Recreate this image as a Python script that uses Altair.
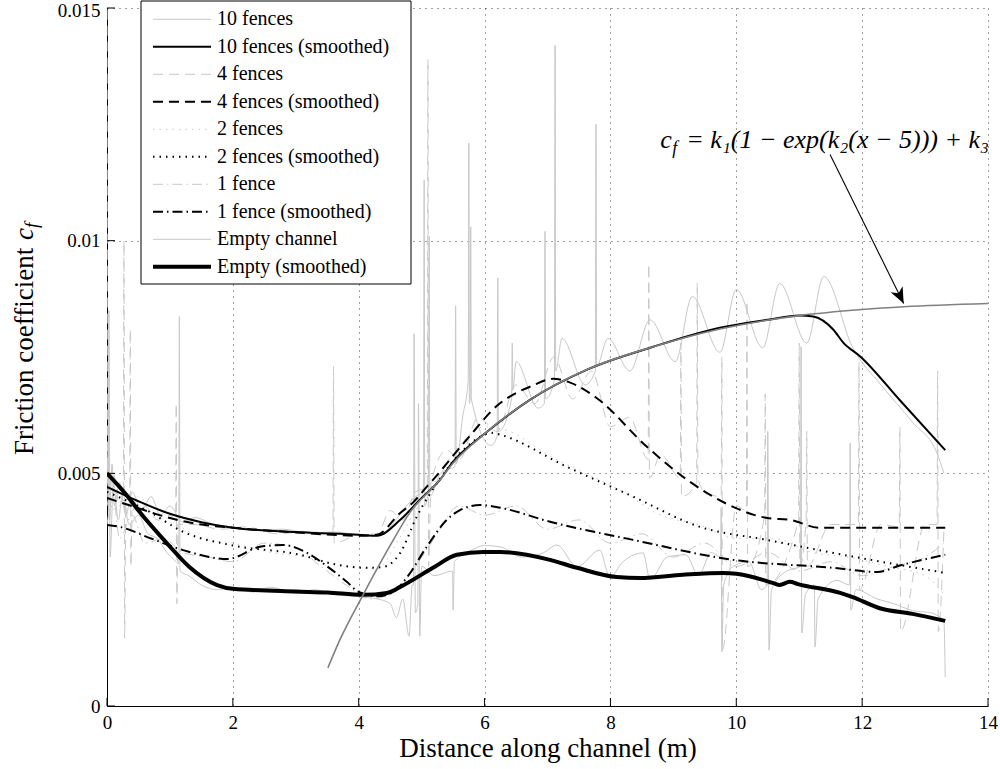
import altair as alt
import pandas as pd

# ---------------- data (friction coefficient values in units of 1e-3) ----------------
# raw traces
ten_raw_x = [0.0, 0.04, 0.08, 0.12, 0.2, 0.3, 0.4, 0.55, 0.7, 0.85, 1.0, 1.2, 1.4, 1.7, 2.0, 2.4, 2.8, 3.2, 3.6, 4.0,
             4.3, 4.5, 4.7, 4.9, 5.03, 5.04, 5.05, 5.11, 5.12, 5.13, 5.3, 5.45, 5.53, 5.54, 5.55, 5.65, 5.74, 5.75,
             5.76, 5.77, 5.78, 5.79, 6.1, 6.2, 6.21, 6.22, 6.43, 6.44, 6.45, 6.5, 6.85, 6.95, 6.96, 6.97, 7.11,
             7.12, 7.13, 7.23, 7.6, 7.76, 7.77, 7.78, 7.96, 8.31, 8.63, 9.03, 9.3, 9.74, 10.0, 10.42, 10.69, 11.12,
             11.39, 11.85, 12.3, 12.8, 13.2, 13.3]
ten_raw_y = [5.6, 4.0, 5.2, 4.3, 4.8, 4.1, 4.6, 4.2, 4.5, 4.1, 4.3, 3.95, 4.05, 3.9, 3.85, 3.78, 3.8, 3.72, 3.74, 3.68,
             3.66, 3.85, 4.2, 4.5, 4.6, 11.3, 4.3, 4.7, 10.1, 4.5, 5.0, 5.1, 5.15, 8.6, 5.2, 6.2, 7.0, 12.1,
             6.5, 6.6, 10.3, 6.6, 5.6, 5.8, 9.2, 5.9, 6.6, 7.8, 6.8, 7.4, 6.4, 6.5, 10.2, 6.6, 7.0,
             14.2, 7.2, 7.9, 6.9, 7.2, 12.5, 7.3, 7.9, 7.2, 8.3, 7.4, 8.8, 7.6, 8.95, 7.7, 9.08, 7.8,
             9.23, 7.7, 6.9, 6.1, 5.4, 5.0]

four_raw_x = [0.0, 0.01, 0.1, 0.2, 0.26, 0.27, 0.28, 0.3, 0.36, 0.37, 0.38, 0.4, 0.6, 0.8, 1.0, 1.09, 1.1, 1.11, 1.13,
              1.4, 1.8, 2.2, 2.7, 3.2, 3.59, 3.6, 3.61, 4.0, 4.3, 4.5, 4.7, 4.9, 5.09, 5.1, 5.11, 5.15, 5.4, 5.6,
              5.9, 6.2, 6.5, 6.8, 7.1, 7.4, 7.7, 8.0, 8.3, 8.6, 8.61, 8.62, 8.8, 9.11, 9.12, 9.13, 9.37, 9.38, 9.39,
              9.5, 9.76, 9.77, 9.78, 10.0, 10.16, 10.17, 10.18, 10.45, 10.46, 10.47, 10.99, 11.0, 11.01, 11.11,
              11.12, 11.13, 11.5, 11.94, 11.95, 11.96, 12.3, 12.59, 12.6, 12.61, 13.0, 13.19, 13.2, 13.21, 13.3]
four_raw_y = [16.0, 4.5, 5.0, 4.3, 4.6, 10.0, 1.46, 4.4, 4.5, 8.1, 3.0, 4.2, 4.3, 4.0, 4.1, 4.0, 6.5, 2.2, 3.9,
              3.9, 3.8, 3.85, 3.7, 3.75, 3.7, 7.3, 3.5, 3.68, 3.7, 4.2, 4.0, 4.6, 4.7, 13.9, 3.0, 4.8, 5.5, 5.3,
              6.2, 5.9, 6.9, 6.5, 7.5, 6.6, 7.2, 6.0, 6.2, 5.3, 9.5, 4.9, 5.4, 4.9, 7.8, 4.5, 4.8, 9.1, 4.9,
              4.6, 4.5, 7.5, 1.2, 4.3, 4.2, 8.7, 3.0, 4.1, 6.7, 2.6, 4.0, 7.8, 3.0, 4.0,
              5.9, 3.0, 3.9, 3.9, 7.4, 2.5, 3.9, 3.85, 6.0, 1.6, 3.9, 3.9, 7.2, 1.6, 3.8]

two_raw_x = [0.0, 0.1, 0.2, 0.35, 0.5, 0.8, 1.1, 1.5, 2.0, 2.6, 3.2, 3.8, 4.3, 4.6, 4.9, 5.2, 5.6, 6.0, 6.4, 7.0,
             7.6, 8.2, 8.8, 9.4, 10.0, 10.6, 11.2, 11.8, 12.4, 13.0, 13.3]
two_raw_y = [5.0, 4.2, 4.8, 4.0, 4.5, 4.0, 3.9, 3.6, 3.5, 3.3, 3.2, 3.0, 2.95, 3.5, 4.2, 4.8, 5.6, 6.0, 5.9, 5.4,
             5.0, 4.6, 4.1, 3.9, 3.6, 3.6, 3.3, 3.2, 3.0, 2.8, 2.4]

one_raw_x = [0.0, 0.1, 0.2, 0.4, 0.6, 0.9, 1.2, 1.6, 2.0, 2.5, 3.0, 3.4, 3.8, 4.2, 4.6, 4.9, 5.2, 5.6, 6.0, 6.5,
             7.0, 7.5, 8.0, 8.5, 9.0, 9.5, 10.0, 10.5, 11.0, 11.5, 12.0, 12.5, 13.0, 13.3]
one_raw_y = [3.9, 4.5, 3.6, 4.1, 3.5, 3.6, 3.3, 3.2, 3.1, 3.5, 3.4, 3.0, 2.6, 2.3, 2.5, 3.0, 3.6, 4.3, 4.1, 4.3,
             3.8, 4.0, 3.5, 3.7, 3.2, 3.5, 3.0, 3.3, 2.9, 3.1, 2.8, 3.0, 3.2, 3.5]

empty_raw_x = [0.0, 0.02, 0.03, 0.05, 0.1, 0.18, 0.25, 0.35, 0.5, 0.65, 0.8, 0.95, 1.1, 1.14, 1.15, 1.16, 1.3, 1.5,
               1.75, 2.0, 2.3, 2.6, 3.0, 3.3, 3.6, 4.0, 4.3, 4.5, 4.6, 4.7, 4.8, 4.85, 4.87, 4.88, 4.9, 4.94, 4.95,
               4.97, 5.0, 5.2, 5.49, 5.5, 5.52, 5.8, 6.0, 6.25, 6.6, 6.93, 7.15, 7.47, 7.83, 7.99, 8.2, 8.52, 8.63,
               8.9, 9.2, 9.4, 9.6, 9.75, 9.76, 9.77, 9.8, 9.95, 10.2, 10.4, 10.49, 10.5, 10.52, 10.56, 10.8, 11.02,
               11.03, 11.04, 11.1, 11.24, 11.25, 11.3, 11.6, 11.8, 11.81, 11.82, 11.9, 12.24, 12.5, 12.8, 13.1,
               13.3, 13.32]
empty_raw_y = [4.4, 4.3, 8.5, 3.2, 4.8, 4.0, 4.6, 3.9, 4.1, 3.7, 3.6, 3.3, 3.1, 3.05, 8.37, 2.9, 2.8, 2.6,
               2.5, 2.55, 2.45, 2.55, 2.42, 2.5, 2.4, 2.35, 2.3, 2.2, 1.9, 2.3, 1.5, 2.6, 2.6, 8.0, 2.0, 2.2, 6.5,
               1.5, 3.0, 2.8, 2.9, 2.06, 3.1, 3.35, 3.45, 3.42, 3.2, 3.29, 3.46, 2.99, 3.35, 2.77, 3.1, 3.29, 2.71,
               3.2, 3.25, 2.8, 3.3, 3.2, 4.26, 1.16, 2.6, 3.0, 3.1, 2.5, 2.6, 5.9, 1.2, 2.5, 2.9, 3.0,
               7.72, 1.57, 2.4, 2.6, 1.27, 2.3, 2.7, 2.6, 5.65, 2.06, 2.5, 2.3, 2.2, 2.05, 2.0,
               1.8, 0.62]

# smoothed traces
ten_s_x = [0, 0.5, 1.0, 1.5, 2.0, 3.0, 4.0, 4.29, 4.66, 4.97, 5.29, 5.5, 6.0, 6.72, 7.63, 8.68, 9.74, 10.5, 11.01,
           11.22, 11.54, 11.7, 11.97, 12.6, 13.32]
ten_s_y = [4.71, 4.40, 4.13, 3.95, 3.83, 3.74, 3.68, 3.66, 4.00, 4.43, 4.86, 5.25, 5.85, 6.58, 7.23, 7.72, 8.13, 8.30,
           8.39, 8.37, 8.09, 7.81, 7.51, 6.57, 5.50]

four_s_x = [0, 0.5, 1.0, 1.5, 2.0, 3.0, 4.0, 4.29, 4.66, 4.86, 5.08, 5.18, 5.7, 6.25, 6.4, 6.72, 7.09, 7.36, 7.78,
            8.58, 9.22, 9.95, 10.49, 10.85, 11.33, 12.0, 13.32]
four_s_y = [4.47, 4.25, 4.04, 3.90, 3.83, 3.73, 3.66, 3.68, 4.15, 4.37, 4.71, 4.86, 5.70, 6.51, 6.65, 6.86, 7.03, 6.95,
            6.62, 5.57, 4.86, 4.28, 4.04, 4.00, 3.83, 3.83, 3.83]

two_s_x = [0, 0.68, 1.2, 2.0, 3.07, 3.6, 4.13, 4.39, 4.66, 4.92, 5.3, 5.7, 6.13, 6.25, 7.31, 8.36, 9.42, 10.49,
           11.54, 13.32]
two_s_y = [4.6, 4.17, 3.75, 3.45, 3.25, 3.05, 2.97, 2.99, 3.29, 4.06, 4.9, 5.55, 5.87, 5.83, 5.14, 4.5, 3.85, 3.57,
           3.29, 2.86]

one_s_x = [0, 0.2, 0.7, 1.21, 1.92, 2.43, 2.8, 3.18, 3.5, 3.81, 4.0, 4.3, 4.55, 4.77, 5.08, 5.4, 5.61, 5.93, 6.25,
           7.04, 8.36, 9.95, 11.54, 12.24, 12.6, 13.32]
one_s_y = [3.89, 3.85, 3.6, 3.35, 3.16, 3.42, 3.46, 3.29, 3.0, 2.67, 2.45, 2.36, 2.45, 2.77, 3.42, 4.0, 4.21, 4.32,
           4.26, 3.96, 3.57, 3.14, 2.97, 2.88, 3.02, 3.25]

empty_s_x = [0, 0.3, 0.5, 0.95, 1.3, 1.75, 2.0, 3.0, 3.5, 4.07, 4.45, 4.66, 5.18, 5.56, 5.98, 6.25, 7.04, 7.47, 8.1,
             8.47, 9.15, 9.79, 10.0, 10.42, 10.59, 10.69, 10.85, 10.98, 11.65, 11.85, 12.28, 12.8, 13.32]
empty_s_y = [5.0, 4.55, 4.2, 3.5, 3.0, 2.6, 2.52, 2.46, 2.44, 2.39, 2.43, 2.56, 2.97, 3.25, 3.31, 3.31, 3.14, 2.97,
             2.77, 2.75, 2.82, 2.86, 2.84, 2.71, 2.64, 2.6, 2.67, 2.62, 2.43, 2.34, 2.1, 1.98, 1.83]

# fitted curve c_f = k1(1-exp(k2(x-5)))+k3
fit_x = [3.51, 3.7, 4.07, 4.5, 4.81, 5.29, 5.5, 6.0, 6.72, 7.63, 8.68, 9.74, 11.0, 12.0, 12.66, 14.0]
fit_y = [0.82, 1.42, 2.39, 3.45, 4.15, 4.86, 5.22, 5.85, 6.58, 7.23, 7.72, 8.10, 8.39, 8.52, 8.58, 8.65]

# annotation arrow (start, tip) and equation anchor
arrow_x = [11.49, 12.66]
arrow_y = [11.85, 8.65]
eq_x = [8.79]
eq_y = [12.0]

x_ticks = [0, 2, 4, 6, 8, 10, 12, 14]
y_ticks = [0, 0.005, 0.01, 0.015]

legend_labels = ["10 fences", "10 fences (smoothed)", "4 fences", "4 fences (smoothed)", "2 fences",
                 "2 fences (smoothed)", "1 fence", "1 fence (smoothed)", "Empty channel", "Empty (smoothed)"]

# ---------------- chart ----------------
E = 1e-3
FONT = "Liberation Serif"
GRAY = "#c8c8c8"
DASH = [10, 6]
DOT = [1.5, 5]
DASHDOT = [10, 4, 1.5, 4]


def frame(xs, ys):
    return pd.DataFrame({"x": xs, "y": [v * E for v in ys]})


xscale = alt.Scale(domain=[0, 14], nice=False, zero=False)
yscale = alt.Scale(domain=[0, 0.015], nice=False, zero=False)

common_axis = dict(grid=True, gridDash=[1, 5], gridColor="#000000", gridOpacity=0.75, gridWidth=1,
                   ticks=False, tickSize=0, domainColor="#000000", domainWidth=1,
                   labelFont=FONT, labelFontSize=19, labelColor="#000000", labelPadding=7,
                   labelFlush=False, labelOverlap=False)
xaxis = alt.Axis(values=x_ticks, format="d", labelAngle=0, title="Distance along channel (m)",
                 titleFont=FONT, titleFontSize=27, titleFontWeight="normal", titleColor="#000000",
                 titlePadding=3, **common_axis)
yaxis = alt.Axis(values=y_ticks, labelExpr="datum.value == 0 ? '0' : format(datum.value, '.3~f')",
                 labelOffset={"condition": {"test": "datum.value > 0.012", "value": 2}, "value": 0},
                 title=None, **common_axis)


def X():
    return alt.X("x:Q", scale=xscale, axis=xaxis)


def Y():
    return alt.Y("y:Q", scale=yscale, axis=yaxis)


def line(xs, ys, color, width, dash=None, interp="linear"):
    kw = dict(color=color, strokeWidth=width, clip=True, interpolate=interp)
    if dash:
        kw["strokeDash"] = dash
    return alt.Chart(frame(xs, ys)).mark_line(**kw).encode(x=X(), y=Y())


series = [
    # label, xs, ys, color, width, dash
    (legend_labels[0], ten_raw_x, ten_raw_y, GRAY, 1, None),
    (legend_labels[1], ten_s_x, ten_s_y, "#000000", 2, None),
    (legend_labels[2], four_raw_x, four_raw_y, GRAY, 1, DASH),
    (legend_labels[3], four_s_x, four_s_y, "#000000", 2, DASH),
    (legend_labels[4], two_raw_x, two_raw_y, GRAY, 1, DOT),
    (legend_labels[5], two_s_x, two_s_y, "#000000", 2, DOT),
    (legend_labels[6], one_raw_x, one_raw_y, GRAY, 1, DASHDOT),
    (legend_labels[7], one_s_x, one_s_y, "#000000", 2, DASHDOT),
    (legend_labels[8], empty_raw_x, empty_raw_y, GRAY, 1, None),
    (legend_labels[9], empty_s_x, empty_s_y, "#000000", 4, None),
]

layers = []
# raw traces first, then smoothed ones
for s in series:
    if s[3] == GRAY:
        layers.append(line(s[1], s[2], s[3], s[4], s[5], "monotone"))
for s in reversed(series):
    if s[3] != GRAY:
        layers.append(line(s[1], s[2], s[3], s[4], s[5], "monotone"))

# fitted curve on top
layers.append(line(fit_x, fit_y, "#808080", 1.6, None, "monotone"))

# annotation arrow
layers.append(alt.Chart(frame(arrow_x, arrow_y)).mark_line(color="#000000", strokeWidth=1.1).encode(x=X(), y=Y()))
layers.append(
    alt.Chart(frame(arrow_x[1:], arrow_y[1:])).mark_point(
        shape="M0,0 L-0.42,1 L0,0.72 L0.42,1 Z", size=1000, filled=True, color="#000000", opacity=1,
        angle=153.6, strokeWidth=0
    ).encode(x=X(), y=Y())
)

# equation text
eq = frame(eq_x, eq_y)
layers.append(alt.Chart(eq).mark_text(text="c", font=FONT, fontSize=26, fontStyle="italic", align="left",
                                      baseline="alphabetic", color="#000000").encode(x=X(), y=Y()))
layers.append(alt.Chart(eq).mark_text(text="f", font=FONT, fontSize=18, fontStyle="italic", align="left",
                                      baseline="alphabetic", dx=12, dy=6, color="#000000").encode(x=X(), y=Y()))
layers.append(alt.Chart(eq).mark_text(text="= k\u2081(1 \u2212 exp(k\u2082(x \u2212 5))) + k\u2083", font=FONT,
                                      fontSize=26, fontStyle="italic", align="left", baseline="alphabetic",
                                      dx=26, color="#000000").encode(x=X(), y=Y()))

# legend
LEG_LEFT, LEG_RIGHT, LEG_TOP, LEG_BOTTOM = 34, 304, -7, 276
ROW0, ROWSTEP = 11.3, 27.5
layers.append(
    alt.Chart(pd.DataFrame({"k": [0]})).mark_rect(fill="#ffffff", stroke="#000000", strokeWidth=1).encode(
        x=alt.value(LEG_LEFT), x2=alt.value(LEG_RIGHT), y=alt.value(LEG_TOP), y2=alt.value(LEG_BOTTOM))
)
for i, s in enumerate(series):
    py = ROW0 + ROWSTEP * i
    kw = dict(color=s[3], strokeWidth=s[4])
    if s[5]:
        kw["strokeDash"] = s[5]
    layers.append(
        alt.Chart(pd.DataFrame({"label": [s[0]]})).mark_rule(**kw).encode(
            x=alt.value(46), x2=alt.value(104), y=alt.value(py))
    )
    layers.append(
        alt.Chart(pd.DataFrame({"label": [s[0]]})).mark_text(
            font=FONT, fontSize=20, align="left", baseline="middle", color="#000000"
        ).encode(x=alt.value(110), y=alt.value(py), text="label:N")
    )

# y-axis title (rotated text)
layers.append(
    alt.Chart(pd.DataFrame({"t": ["Friction coefficient"]})).mark_text(
        font=FONT, fontSize=27, angle=270, align="left", baseline="middle", color="#000000"
    ).encode(x=alt.value(-82), y=alt.value(447), text="t:N")
)
layers.append(
    alt.Chart(pd.DataFrame({"t": ["c"]})).mark_text(
        font=FONT, fontSize=27, fontStyle="italic", angle=270, align="left", baseline="middle", color="#000000"
    ).encode(x=alt.value(-82), y=alt.value(232), text="t:N")
)
layers.append(
    alt.Chart(pd.DataFrame({"t": ["f"]})).mark_text(
        font=FONT, fontSize=19, fontStyle="italic", angle=270, align="left", baseline="middle", color="#000000"
    ).encode(x=alt.value(-75), y=alt.value(220), text="t:N")
)

# inward tick marks
layers.append(
    alt.Chart(pd.DataFrame({"x": x_ticks})).mark_rule(color="#000000", strokeWidth=1).encode(
        x=X(), y=alt.value(698), y2=alt.value(690))
)
layers.append(
    alt.Chart(pd.DataFrame({"y": y_ticks})).mark_rule(color="#000000", strokeWidth=1).encode(
        y=Y(), x=alt.value(0), x2=alt.value(8))
)

chart = alt.layer(*layers).properties(
    width=881, height=698,
    autosize=alt.AutoSizeParams(type="none"),
    padding={"left": 107, "right": 12, "top": 8, "bottom": 63},
    background="#ffffff",
).configure_view(stroke=None)

chart.save("out.html", embed_options={"renderer": "svg", "actions": False})
